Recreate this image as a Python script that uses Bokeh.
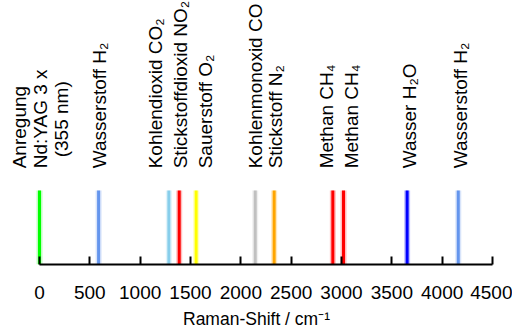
import numpy as np
from bokeh.plotting import figure
from bokeh.models import Range1d, FixedTicker, ColumnDataSource
from bokeh.core.properties import value
from bokeh.embed import file_html
from bokeh.resources import INLINE

# Raman line positions (cm^-1), colours and relative heights
shifts = [0, 587, 1285, 1388, 1556, 2143, 2331, 2914, 3020, 3652, 4160]
heights = [1, 1, 1, 1, 1, 1, 1, 1, 1, 1, 1]
colors = ["#00ff00", "#6495ed", "#87ceeb", "#ff0000", "#ffff00", "#c0c0c0",
          "#ffa500", "#ff0000", "#ff0000", "#0000ff", "#6495ed"]

# Labels: text, the line they belong to (index into shifts)
label_texts = ["Anregung", "Nd:YAG 3 x", "(355 nm)", "Wasserstoff H\u2082",
               "Kohlendioxid CO\u2082", "Stickstoffdioxid NO\u2082", "Sauerstoff O\u2082",
               "Kohlenmonoxid CO", "Stickstoff N\u2082", "Methan CH\u2084",
               "Methan CH\u2084", "Wasser H\u2082O", "Wasserstoff H\u2082"]
label_line = [0, 0, 0, 1, 2, 3, 4, 5, 6, 7, 8, 9, 10]

ticks = [0, 500, 1000, 1500, 2000, 2500, 3000, 3500, 4000, 4500]
x_label = "Raman-Shift / cm\u207b\u00b9"

# layout (pixel offsets of labels relative to their line)
label_dx = [-20, 1, 22, 1, -13, 1, 9, 0, 1, -6, 8, 2, 2]
label_dy = [0, 0, -11, 0, 0, 0, 0, 0, 0, 0, 0, 0, 0]

W, H = 512, 334
px_per_unit = 453 / 4500.0
x0 = -39 / px_per_unit
x1 = 4500 + 20 / px_per_unit
frame_h = 264
y_top = frame_h / 74.0

p = figure(width=W, height=H, output_backend="svg", toolbar_location=None,
           x_range=Range1d(x0, x1), y_range=Range1d(0, y_top),
           y_axis_location=None, min_border_left=0, min_border_right=0,
           min_border_top=0, min_border_bottom=H - frame_h)
p.outline_line_color = None
p.grid.visible = False
p.background_fill_color = "white"
p.border_fill_color = "white"

src = ColumnDataSource(dict(x=shifts, y0=[0] * len(shifts), y1=heights, c=colors))
p.segment(x0="x", y0="y0", x1="x", y1="y1", source=src, line_color="c",
          line_width=6, line_alpha=0.25, line_cap="butt")
p.segment(x0="x", y0="y0", x1="x", y1="y1", source=src, line_color="c",
          line_width=3, line_cap="butt")

lsrc = ColumnDataSource(dict(
    x=[shifts[i] for i in label_line],
    y=[1.3] * len(label_texts),
    t=label_texts, dx=label_dx, dy=label_dy))
p.text(x="x", y="y", text="t", source=lsrc, angle=np.pi / 2,
       x_offset="dx", y_offset="dy",
       text_align="left", text_baseline="middle",
       text_font=value("Liberation Sans"), text_font_size="19px",
       text_color="black")

ax = p.xaxis[0]
ax.bounds = (0, 4500)
ax.ticker = FixedTicker(ticks=ticks)
ax.minor_tick_line_color = None
ax.axis_line_width = 2
ax.axis_line_color = "black"
ax.major_tick_line_width = 2
ax.major_tick_line_color = "black"
ax.major_tick_in = 8
ax.major_tick_out = 0
ax.major_label_standoff = 21
ax.major_label_text_font = "Liberation Sans"
ax.major_label_text_font_size = "19px"
ax.major_label_text_color = "black"
ax.axis_label = x_label
ax.axis_label_text_font = "Liberation Sans"
ax.axis_label_text_font_size = "17.5px"
ax.axis_label_text_font_style = "normal"
ax.axis_label_text_color = "black"
ax.axis_label_standoff = 7

open("out.html", "w").write(file_html(p, INLINE))
